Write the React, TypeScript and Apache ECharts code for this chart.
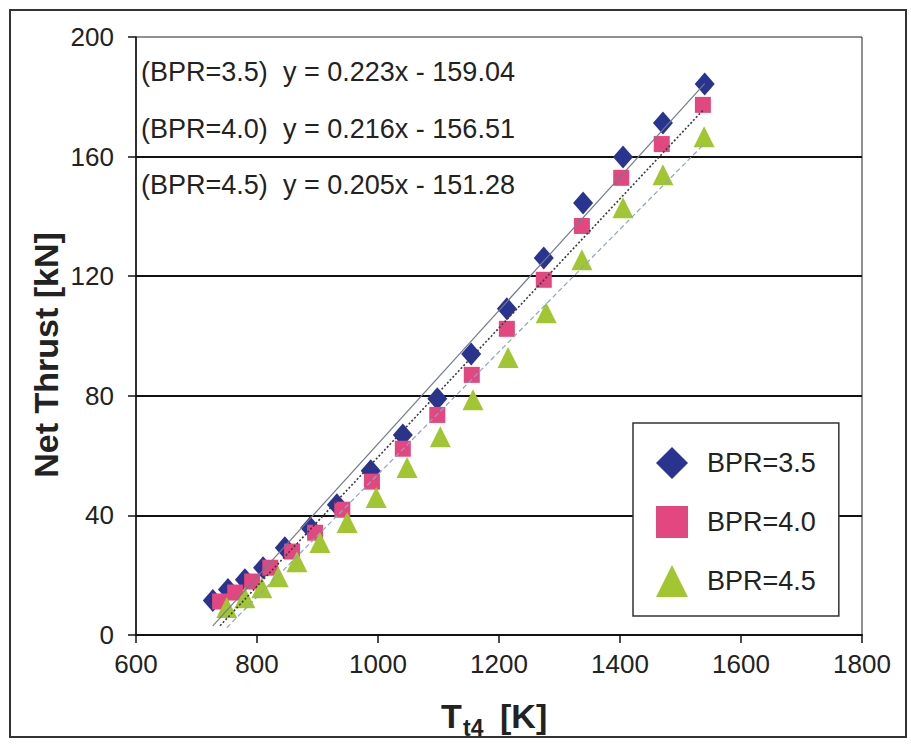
import React, { useEffect, useRef } from "react";
import * as echarts from "echarts";

// ---- data ----
const seriesNames = ["BPR=3.5", "BPR=4.0", "BPR=4.5"];

const tempBPR35 = [727, 752, 780, 810, 846, 888, 932, 988, 1041, 1098, 1154, 1213, 1274, 1339, 1405, 1471, 1540];
const thrustBPR35 = [11.5, 15.2, 18.5, 22.5, 29.2, 35.9, 43.6, 54.9, 66.9, 79.0, 94.0, 109.1, 126.1, 144.5, 159.9, 171.2, 184.3];

const tempBPR40 = [739, 764, 792, 822, 858, 896, 941, 990, 1041, 1098, 1155, 1213, 1274, 1337, 1402, 1469, 1537];
const thrustBPR40 = [11.2, 14.2, 17.9, 22.5, 27.9, 34.2, 41.9, 51.3, 62.3, 73.6, 87.0, 102.4, 118.8, 136.8, 152.9, 164.2, 177.3];

const tempBPR45 = [750, 780, 808, 835, 866, 904, 949, 997, 1048, 1103, 1157, 1215, 1278, 1337, 1405, 1471, 1539];
const thrustBPR45 = [9.2, 12.5, 15.8, 19.5, 24.5, 30.9, 37.6, 46.0, 56.0, 66.3, 78.7, 92.8, 107.8, 125.5, 142.9, 153.9, 166.6];

const fitSlopes = [0.223, 0.216, 0.205];
const fitIntercepts = [-159.04, -156.51, -151.28];

const xAxisMin = 600;
const xAxisMax = 1800;
const xAxisStep = 200;
const yAxisMin = 0;
const yAxisMax = 200;
const yAxisStep = 40;

const xTitle = ["T", "t4", "[K]"];
const yTitle = "Net Thrust [kN]";

// ---- styling ----
const markerColors = ["#28348f", "#e2487f", "#a2c631"];
const markerSymbols = ["diamond", "rect", "triangle"];
const markerSizes: any[] = [[20, 23], 16, [21, 21]];
const fitLineStyles: any[] = [
  { color: "#707a90", width: 1.2, type: "solid" },
  { color: "#3a3a44", width: 1.6, type: [2, 2] },
  { color: "#8aa6c8", width: 1.2, type: [5, 3] },
];

const FONT = "'Liberation Sans', Arial, sans-serif";

export default function App() {
  const ref = useRef<HTMLDivElement>(null);

  useEffect(() => {
    if (!ref.current) return;
    const chart = echarts.init(ref.current, undefined, { renderer: "svg" });

    const temps = [tempBPR35, tempBPR40, tempBPR45];
    const thrusts = [thrustBPR35, thrustBPR40, thrustBPR45];

    const scatterSeries = seriesNames.map((name, i) => ({
      name,
      type: "scatter",
      symbol: markerSymbols[i],
      symbolSize: markerSizes[i],
      symbolKeepAspect: false,
      itemStyle: { color: markerColors[i], opacity: 1 },
      z: 2,
      data: temps[i].map((t, k) => [t, thrusts[i][k]]),
    }));

    const fitSeries = seriesNames.map((name, i) => {
      const xs = temps[i];
      const x0 = Math.min(...xs);
      const x1 = Math.max(...xs);
      return {
        name: "fit " + name,
        type: "line",
        showSymbol: false,
        symbol: "none",
        silent: true,
        z: 3,
        lineStyle: fitLineStyles[i],
        data: [
          [x0, fitSlopes[i] * x0 + fitIntercepts[i]],
          [x1, fitSlopes[i] * x1 + fitIntercepts[i]],
        ],
      };
    });

    const eqY = [72, 129, 185];
    const eqGraphics: any[] = [];
    seriesNames.forEach((name, i) => {
      const b = fitIntercepts[i];
      eqGraphics.push({
        type: "text",
        x: 141,
        y: eqY[i],
        style: {
          text: "(" + name + ")",
          font: `27px ${FONT}`,
          fill: "#222",
          textAlign: "left",
          textVerticalAlign: "middle",
        },
      });
      eqGraphics.push({
        type: "text",
        x: 283,
        y: eqY[i],
        style: {
          text: `y = ${fitSlopes[i].toFixed(3)}x ${b < 0 ? "-" : "+"} ${Math.abs(b).toFixed(2)}`,
          font: `27px ${FONT}`,
          fill: "#222",
          textAlign: "left",
          textVerticalAlign: "middle",
        },
      });
    });

    chart.setOption({
      animation: false,
      backgroundColor: "#ffffff",
      grid: {
        left: 136,
        top: 37,
        width: 726,
        height: 598,
        show: true,
        borderColor: "#222",
        borderWidth: 1,
        backgroundColor: "#ffffff",
      },
      legend: {
        orient: "vertical",
        left: 633,
        top: 423,
        data: seriesNames,
        itemWidth: 32,
        itemHeight: 32,
        itemGap: 27,
        padding: [24, 23, 19, 23],
        backgroundColor: "#ffffff",
        borderColor: "#333",
        borderWidth: 1.5,
        borderRadius: 0,
        selectedMode: false,
        textStyle: { fontSize: 27, fontFamily: FONT, color: "#222", padding: [0, 0, 0, 14] },
      },
      xAxis: {
        type: "value",
        min: xAxisMin,
        max: xAxisMax,
        interval: xAxisStep,
        axisLine: { show: true, onZero: false, lineStyle: { color: "#111", width: 2 } },
        axisTick: { show: true, inside: false, length: 8, lineStyle: { color: "#111", width: 1.5 } },
        axisLabel: {
          fontSize: 26,
          fontFamily: FONT,
          color: "#222",
          margin: 16,
          formatter: (v: number) => String(v),
        },
        splitLine: { show: false },
      },
      yAxis: {
        type: "value",
        min: yAxisMin,
        max: yAxisMax,
        interval: yAxisStep,
        axisLine: { show: true, lineStyle: { color: "#111", width: 1.5 } },
        axisTick: { show: true, inside: false, length: 8, lineStyle: { color: "#111", width: 1.5 } },
        axisLabel: {
          fontSize: 26,
          fontFamily: FONT,
          color: "#222",
          margin: 22,
          formatter: (v: number) => String(v),
        },
        splitLine: {
          show: true,
          showMinLine: false,
          showMaxLine: false,
          lineStyle: { color: "#111", width: 2 },
        },
      },
      graphic: [
        {
          type: "rect",
          shape: { x: 10, y: 10, width: 896, height: 727 },
          style: { fill: "none", stroke: "#333", lineWidth: 2 },
          z: -1,
          silent: true,
        },
        ...eqGraphics,
        {
          type: "text",
          x: 46,
          y: 355,
          rotation: Math.PI / 2,
          style: {
            text: yTitle,
            font: `bold 34px ${FONT}`,
            fill: "#222",
            textAlign: "center",
            textVerticalAlign: "middle",
          },
        },
        {
          type: "text",
          x: 441,
          y: 716,
          style: {
            text: xTitle[0],
            font: `bold 34px ${FONT}`,
            fill: "#222",
            textAlign: "left",
            textVerticalAlign: "middle",
          },
        },
        {
          type: "text",
          x: 463,
          y: 728,
          style: {
            text: xTitle[1],
            font: `bold 23px ${FONT}`,
            fill: "#222",
            textAlign: "left",
            textVerticalAlign: "middle",
          },
        },
        {
          type: "text",
          x: 500,
          y: 716,
          style: {
            text: xTitle[2],
            font: `bold 34px ${FONT}`,
            fill: "#222",
            textAlign: "left",
            textVerticalAlign: "middle",
          },
        },
      ],
      series: [...scatterSeries, ...fitSeries],
    });

    return () => chart.dispose();
  }, []);

  return (
    <div
      ref={ref}
      style={{ position: "absolute", left: 0, top: 0, width: 911, height: 744, background: "#fff" }}
    />
  );
}
